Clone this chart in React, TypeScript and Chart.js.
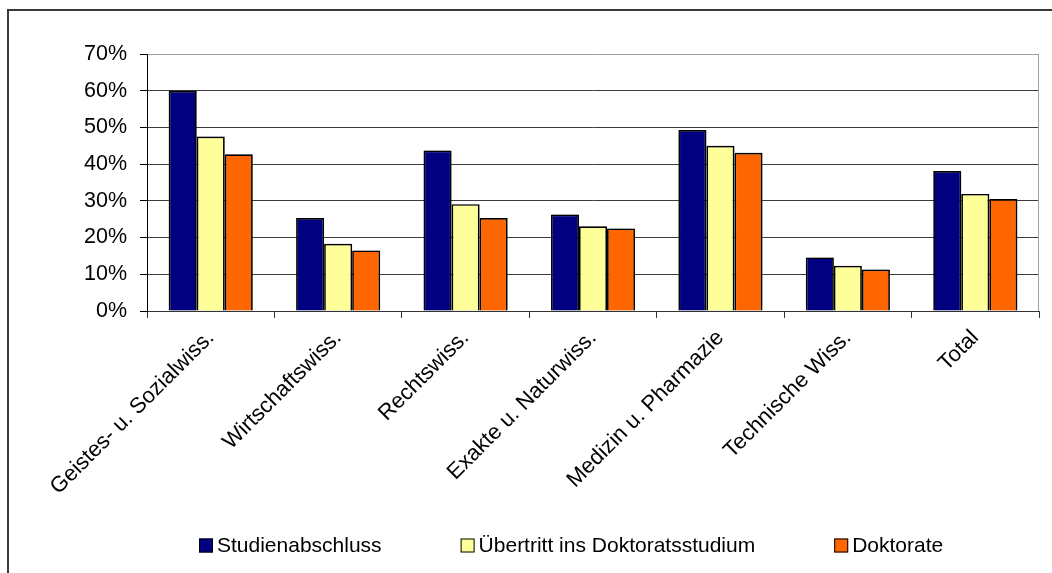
import React, { useEffect, useRef } from "react";
import { Chart, registerables } from "chart.js";

Chart.register(...registerables);

const categories = [
  "Geistes- u. Sozialwiss.",
  "Wirtschaftswiss.",
  "Rechtswiss.",
  "Exakte u. Naturwiss.",
  "Medizin u. Pharmazie",
  "Technische Wiss.",
  "Total",
];
const studienabschluss = [60.0, 25.3, 43.7, 26.3, 49.3, 14.6, 38.1];
const uebertritt = [47.5, 18.3, 29.1, 23.1, 45.0, 12.3, 31.9];
const doktorate = [42.7, 16.5, 25.3, 22.5, 43.1, 11.3, 30.5];
const seriesLabels = ["Studienabschluss", "Übertritt ins Doktoratsstudium", "Doktorate"];
const yMin = 0;
const yMax = 70;
const yStep = 10;

const FONT = '"Liberation Sans", Arial, sans-serif';

const framePlugin = {
  id: "frame",
  beforeDraw(chart: any) {
    const ctx = chart.ctx;
    ctx.save();
    ctx.strokeStyle = "#3a3a3a";
    ctx.lineWidth = 2;
    ctx.beginPath();
    ctx.moveTo(8, chart.height);
    ctx.lineTo(8, 10);
    ctx.lineTo(chart.width, 10);
    ctx.stroke();
    ctx.restore();
  },
  afterDraw(chart: any) {
    const { ctx, chartArea } = chart;
    ctx.save();
    ctx.strokeStyle = "#a0a0a0";
    ctx.lineWidth = 1;
    ctx.beginPath();
    const x = Math.round(chartArea.right) - 0.5;
    ctx.moveTo(x, chartArea.top);
    ctx.lineTo(x, chartArea.bottom);
    ctx.stroke();
    ctx.restore();
  },
};

const shadowPlugin = {
  id: "barShadow",
  beforeDatasetsDraw(chart: any) {
    const ctx = chart.ctx;
    ctx.save();
    ctx.shadowColor = "rgba(0,0,0,0.35)";
    ctx.shadowBlur = 3;
    ctx.shadowOffsetX = 1;
    ctx.shadowOffsetY = 0;
  },
  afterDatasetsDraw(chart: any) {
    chart.ctx.restore();
  },
};

const legendPlugin = {
  id: "customLegend",
  afterDraw(chart: any) {
    const ctx = chart.ctx;
    ctx.save();
    ctx.font = "21px " + FONT;
    ctx.textBaseline = "middle";
    ctx.textAlign = "left";
    let x = 199;
    const yMid = 545.5;
    chart.data.datasets.forEach((ds: any) => {
      ctx.fillStyle = ds.backgroundColor;
      ctx.fillRect(x, yMid - 7, 14, 14);
      ctx.strokeStyle = "#000";
      ctx.lineWidth = 1;
      ctx.strokeRect(x + 0.5, yMid - 6.5, 13, 13);
      ctx.fillStyle = "#000";
      ctx.fillText(ds.label, x + 18, yMid + 0.5);
      x += 18 + ctx.measureText(ds.label).width + 79;
    });
    ctx.restore();
  },
};

export default function App() {
  const canvasRef = useRef<HTMLCanvasElement | null>(null);

  useEffect(() => {
    if (!canvasRef.current) return;
    const barCommon = {
      borderColor: "#000000",
      borderWidth: 1.7,
      categoryPercentage: 0.66,
      barPercentage: 1.0,
    };
    const chart = new Chart(canvasRef.current, {
      type: "bar",
      data: {
        labels: categories,
        datasets: [
          { label: seriesLabels[0], data: studienabschluss, backgroundColor: "#000080", ...barCommon },
          { label: seriesLabels[1], data: uebertritt, backgroundColor: "#FFFF99", ...barCommon },
          { label: seriesLabels[2], data: doktorate, backgroundColor: "#FF6600", ...barCommon },
        ],
      },
      options: {
        animation: false,
        responsive: false,
        maintainAspectRatio: false,
        layout: { padding: { top: 54, right: 13, left: 0, bottom: 0 } },
        plugins: {
          legend: { display: false },
          tooltip: { enabled: false },
          title: { display: false },
        },
        scales: {
          x: {
            offset: true,
            grid: {
              offset: true,
              drawOnChartArea: false,
              drawTicks: true,
              tickLength: 7,
              color: "#333333",
              tickColor: "#333333",
            },
            border: { display: true, color: "#333333", width: 1 },
            ticks: {
              minRotation: 45,
              maxRotation: 45,
              autoSkip: false,
              padding: 7,
              color: "#000000",
              font: { family: FONT, size: 22 },
            },
            afterFit: (scale: any) => {
              scale.height = 573 - 311;
            },
          },
          y: {
            min: yMin,
            max: yMax,
            ticks: {
              stepSize: yStep,
              padding: 13,
              color: "#000000",
              font: { family: FONT, size: 21.5 },
              callback: (v: any) => v + "%",
            },
            grid: {
              drawTicks: true,
              tickLength: 7,
              color: (c: any) => (c.tick && c.tick.value === yMax ? "#a0a0a0" : "#3c3c3c"),
              tickColor: "#000000",
            },
            border: { display: true, color: "#000000", width: 1 },
            afterFit: (scale: any) => {
              scale.width = 147;
            },
          },
        },
      },
      plugins: [framePlugin, shadowPlugin, legendPlugin],
    });
    return () => chart.destroy();
  }, []);

  return (
    <div style={{ position: "absolute", left: 0, top: 0, width: 1052, height: 573, background: "#fff" }}>
      <canvas ref={canvasRef} width={1052} height={573} style={{ width: 1052, height: 573, display: "block" }} />
    </div>
  );
}
